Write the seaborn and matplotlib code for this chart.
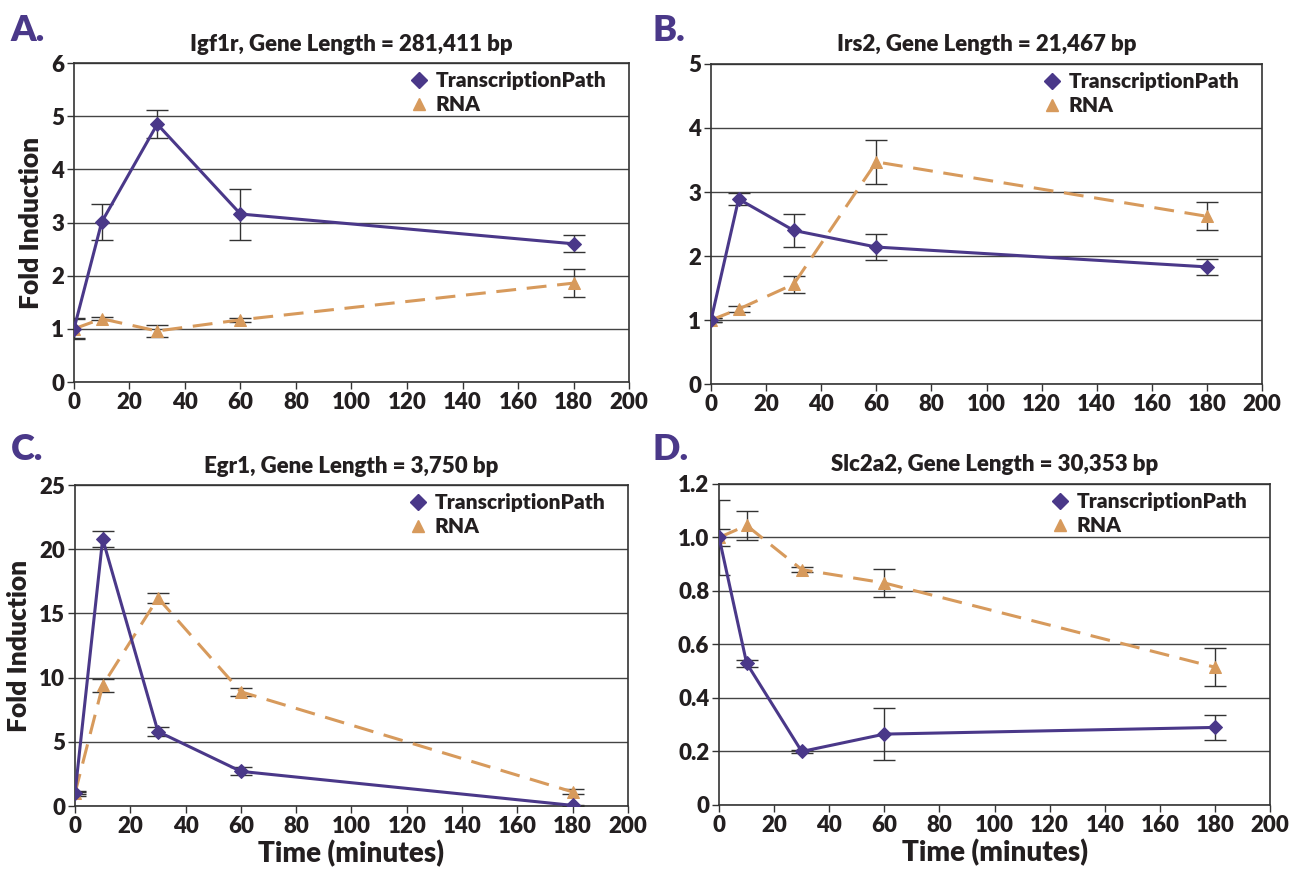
import matplotlib
matplotlib.use("Agg")
import matplotlib.pyplot as plt
import seaborn as sns
import pandas as pd
import numpy as np
from matplotlib.lines import Line2D

# ---------------- data ----------------
times = [0, 10, 30, 60, 180]

titles = ["Igf1r, Gene Length = 281,411 bp",
          "Irs2, Gene Length = 21,467 bp",
          "Egr1, Gene Length = 3,750 bp",
          "Slc2a2, Gene Length = 30,353 bp"]
letters = ["A.", "B.", "C.", "D."]

tp_a = [1.0, 3.01, 4.85, 3.16, 2.60]
tp_a_err = [0.20, 0.33, 0.26, 0.48, 0.16]
rna_a = [1.0, 1.19, 0.96, 1.17, 1.86]
rna_a_err = [0.18, 0.03, 0.11, 0.04, 0.27]

tp_b = [1.0, 2.89, 2.40, 2.14, 1.83]
tp_b_err = [0.03, 0.10, 0.26, 0.20, 0.12]
rna_b = [1.0, 1.17, 1.56, 3.47, 2.62]
rna_b_err = [0.03, 0.05, 0.13, 0.35, 0.22]

tp_c = [1.0, 20.8, 5.8, 2.7, 0.05]
tp_c_err = [0.20, 0.60, 0.35, 0.32, 0.05]
rna_c = [1.0, 9.4, 16.2, 8.9, 1.1]
rna_c_err = [0.10, 0.50, 0.40, 0.30, 0.20]

tp_d = [1.0, 0.53, 0.20, 0.265, 0.29]
tp_d_err = [0.14, 0.013, 0.005, 0.097, 0.046]
rna_d = [1.0, 1.045, 0.88, 0.83, 0.515]
rna_d_err = [0.032, 0.053, 0.008, 0.053, 0.072]

tp_all = [tp_a, tp_b, tp_c, tp_d]
tp_err_all = [tp_a_err, tp_b_err, tp_c_err, tp_d_err]
rna_all = [rna_a, rna_b, rna_c, rna_d]
rna_err_all = [rna_a_err, rna_b_err, rna_c_err, rna_d_err]

y_max = [6, 5, 25, 1.2]
y_step = [1, 1, 5, 0.2]
d_labels = ["0", "0.2", "0.4", "0.6", "0.8", "1.0", "1.2"]

# ---------------- style ----------------
sns.set_theme(style="white")
FAM = ["Lato", "DejaVu Sans"]
plt.rcParams["font.family"] = FAM
plt.rcParams["font.weight"] = "bold"

PURPLE = "#4a3889"
ORANGE = "#d79a5c"
TXT = "#231f20"

fig = plt.figure(figsize=(12.98, 8.73), dpi=100)

positions = [
    [0.057, 0.5624, 0.4276, 0.3654],
    [0.5478, 0.5601, 0.4245, 0.3666],
    [0.0578, 0.0767, 0.4260, 0.3677],
    [0.5540, 0.0779, 0.4245, 0.3677],
]
letter_pos = [(0.008, 0.965), (0.503, 0.965), (0.008, 0.485), (0.503, 0.485)]

for i in range(4):
    ax = fig.add_axes(positions[i])
    df_tp = pd.DataFrame({"Time": times, "Fold": tp_all[i]})
    df_rna = pd.DataFrame({"Time": times, "Fold": rna_all[i]})

    ticks = np.arange(0, y_max[i] + y_step[i] / 2, y_step[i])
    ax.set_ylim(0, y_max[i])
    ax.set_xlim(0, 200)
    ax.set_yticks(ticks)
    ax.set_xticks(np.arange(0, 201, 20))
    ax.yaxis.grid(True, color="#444444", linewidth=1.0)
    ax.xaxis.grid(False)
    ax.set_axisbelow(True)

    ax.errorbar(times, tp_all[i], yerr=tp_err_all[i], fmt="none",
                ecolor="#333333", elinewidth=1.0, capsize=8, capthick=1.0, zorder=2)
    ax.errorbar(times, rna_all[i], yerr=rna_err_all[i], fmt="none",
                ecolor="#333333", elinewidth=1.0, capsize=8, capthick=1.0, zorder=2)

    n_before = len(ax.get_lines())
    sns.lineplot(data=df_rna, x="Time", y="Fold", ax=ax, color=ORANGE,
                 linewidth=2.2, marker="^", markersize=9, markeredgecolor=ORANGE,
                 label="RNA", zorder=3)
    for ln in ax.get_lines()[n_before:]:
        ln.set_linestyle((0, (6.5, 3.5)))
    sns.lineplot(data=df_tp, x="Time", y="Fold", ax=ax, color=PURPLE,
                 linewidth=2.2, marker="D", markersize=7, markeredgecolor=PURPLE,
                 label="TranscriptionPath", zorder=4)

    h_tp = Line2D([], [], linestyle="none", marker="D", color=PURPLE, markersize=8)
    h_rna = Line2D([], [], linestyle="none", marker="^", color=ORANGE, markersize=9)
    leg = ax.legend([h_tp, h_rna], ["TranscriptionPath", "RNA"], loc="upper right",
                    frameon=False, handletextpad=0.2,
                    borderaxespad=0.3, labelspacing=0.25, handlelength=1.2,
                    bbox_to_anchor=(0.985, 1.02),
                    prop={"family": FAM, "size": 15, "weight": "heavy"})
    for t in leg.get_texts():
        t.set_color(TXT)

    if i == 3:
        ax.set_yticklabels(d_labels)
    else:
        ax.set_yticklabels(["{:.0f}".format(v) for v in ticks])
    ax.tick_params(axis="both", which="major", direction="out", length=5,
                   width=1, color="#333333", labelsize=16, labelcolor=TXT,
                   left=True, bottom=True, pad=2)
    for lab in ax.get_xticklabels() + ax.get_yticklabels():
        lab.set_fontweight("heavy")

    for s in ax.spines.values():
        s.set_color("#333333")
        s.set_linewidth(1.2)

    ax.set_title(titles[i], fontsize=16, fontweight="heavy", color=TXT, pad=9)
    if i in (0, 2):
        ax.set_ylabel("Fold Induction", fontsize=19, fontweight="heavy", color=TXT, labelpad=6)
    else:
        ax.set_ylabel("")
    if i in (2, 3):
        ax.set_xlabel("Time (minutes)", fontsize=20, fontweight="heavy", color=TXT, labelpad=2)
    else:
        ax.set_xlabel("")

    fig.text(letter_pos[i][0], letter_pos[i][1], letters[i], fontsize=26,
             fontweight="heavy", color=PURPLE, ha="left", va="center")

fig.savefig("out.png", dpi=100)
